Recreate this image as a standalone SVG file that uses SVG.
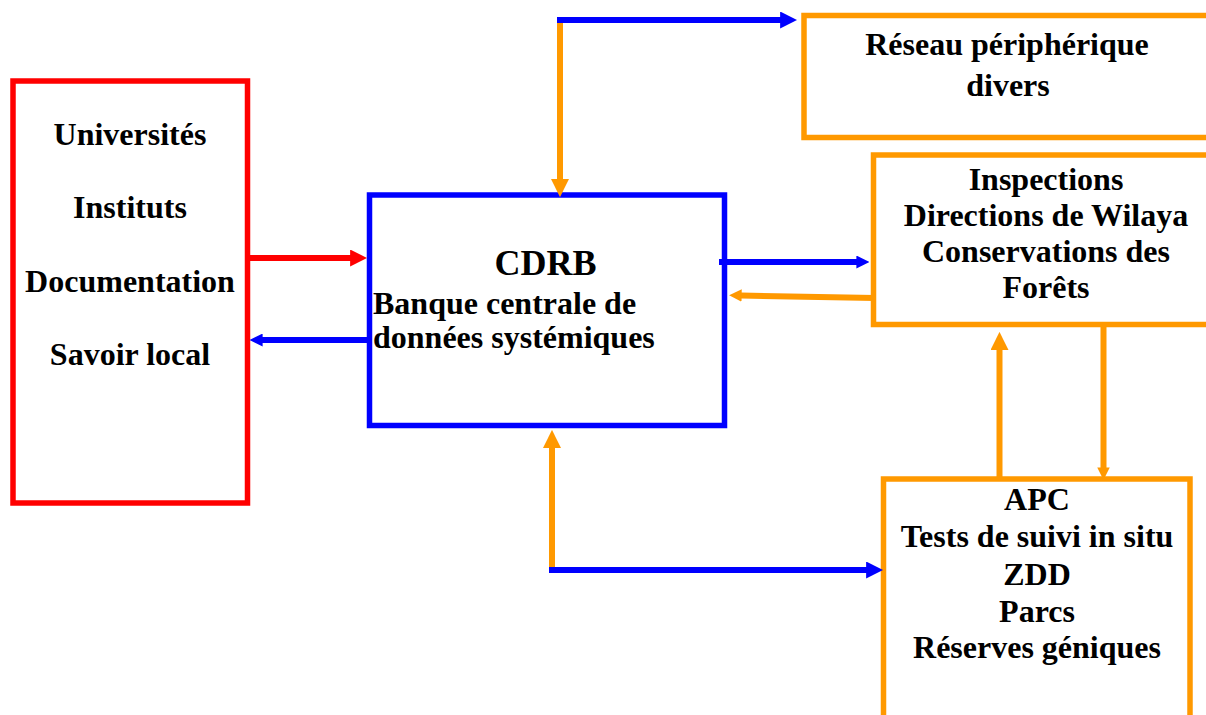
<svg xmlns="http://www.w3.org/2000/svg" width="1206" height="715" viewBox="0 0 1206 715">
  <style>
    .box { fill: #ffffff; stroke-width: 5.5; }
    .red { stroke: #ff0000; }
    .blue { stroke: #0000ff; }
    .orange { stroke: #ff9900; }
    .label { font-family: "Liberation Serif", "Times New Roman", serif; font-weight: bold; font-size: 32px; fill: #000000; }
    .mid { text-anchor: middle; }
    .link { fill: none; stroke-width: 6; stroke-linecap: butt; }
  </style>
  <defs>
    <marker id="head-blue-lg" viewBox="0 0 10 10" refX="0.5" refY="5" markerUnits="userSpaceOnUse" markerWidth="17.5" markerHeight="17" orient="auto">
      <path d="M0,0 L10,5 L0,10 z" fill="#0000ff"/>
    </marker>
    <marker id="head-blue-sm" viewBox="0 0 10 10" refX="0.5" refY="5" markerUnits="userSpaceOnUse" markerWidth="13" markerHeight="13" orient="auto">
      <path d="M0,0 L10,5 L0,10 z" fill="#0000ff"/>
    </marker>
    <marker id="head-red-lg" viewBox="0 0 10 10" refX="0.5" refY="5" markerUnits="userSpaceOnUse" markerWidth="17.5" markerHeight="17" orient="auto">
      <path d="M0,0 L10,5 L0,10 z" fill="#ff0000"/>
    </marker>
    <marker id="head-orange-lg" viewBox="0 0 10 10" refX="0.5" refY="5" markerUnits="userSpaceOnUse" markerWidth="18" markerHeight="18" orient="auto">
      <path d="M0,0 L10,5 L0,10 z" fill="#ff9900"/>
    </marker>
    <marker id="head-orange-sm" viewBox="0 0 10 10" refX="0.5" refY="5" markerUnits="userSpaceOnUse" markerWidth="12.5" markerHeight="12.5" orient="auto">
      <path d="M0,0 L10,5 L0,10 z" fill="#ff9900"/>
    </marker>
  </defs>

  <rect width="1206" height="715" fill="#ffffff"/>

  <!-- sources -->
  <g id="node-sources">
    <rect class="box red" x="13" y="81" width="234.5" height="422"/>
    <text class="label mid" x="130" y="145">Universités</text>
    <text class="label mid" x="130" y="218">Instituts</text>
    <text class="label mid" x="130" y="292">Documentation</text>
    <text class="label mid" x="130" y="365">Savoir local</text>
  </g>

  <!-- central data bank -->
  <g id="node-cdrb">
    <rect class="box blue" x="369.5" y="195" width="355" height="230.5"/>
    <text class="label mid" x="545.5" y="275" style="font-size:36px">CDRB</text>
    <text class="label" x="373" y="314">Banque centrale de</text>
    <text class="label" x="373" y="348">données systémiques</text>
  </g>

  <!-- peripheral network -->
  <g id="node-reseau">
    <rect class="box orange" x="804" y="15.5" width="420" height="122"/>
    <text class="label mid" x="1007" y="55">Réseau périphérique</text>
    <text class="label mid" x="1008" y="96">divers</text>
  </g>

  <!-- administrations -->
  <g id="node-inspections">
    <rect class="box orange" x="873.5" y="155" width="350" height="169.5"/>
    <text class="label mid" x="1046" y="190">Inspections</text>
    <text class="label mid" x="1046" y="226">Directions de Wilaya</text>
    <text class="label mid" x="1046" y="262">Conservations des</text>
    <text class="label mid" x="1046" y="298">Forêts</text>
  </g>

  <!-- field sites -->
  <g id="node-terrain">
    <rect class="box orange" x="883.5" y="479" width="306.5" height="260"/>
    <text class="label mid" x="1037" y="510">APC</text>
    <text class="label mid" x="1037" y="547">Tests de suivi in situ</text>
    <text class="label mid" x="1037" y="585">ZDD</text>
    <text class="label mid" x="1037" y="622">Parcs</text>
    <text class="label mid" x="1037" y="658">Réserves géniques</text>
  </g>

  <!-- flows -->
  <g id="connectors">
    <path class="link orange" d="M560,22 V180" marker-end="url(#head-orange-lg)"/>
    <path class="link blue" d="M557,20 H781" marker-end="url(#head-blue-lg)"/>
    <path class="link red" d="M250,258 H351" stroke-width="7" marker-end="url(#head-red-lg)"/>
    <path class="link blue" d="M369,340 H262" marker-end="url(#head-blue-sm)"/>
    <path class="link blue" d="M719,262 H857" marker-end="url(#head-blue-sm)"/>
    <path class="link orange" d="M875,298 L741,295.5" stroke-width="7" marker-end="url(#head-orange-sm)"/>
    <path class="link orange" d="M552,570 V447" stroke-width="7" marker-end="url(#head-orange-lg)"/>
    <path class="link blue" d="M549,570 H867" stroke-width="5.5" marker-end="url(#head-blue-lg)"/>
    <path class="link orange" d="M999.5,477 V349" stroke-width="7" marker-end="url(#head-orange-lg)"/>
    <path class="link orange" d="M1103.5,327 V468" stroke-width="5" marker-end="url(#head-orange-sm)"/>
  </g>
</svg>
